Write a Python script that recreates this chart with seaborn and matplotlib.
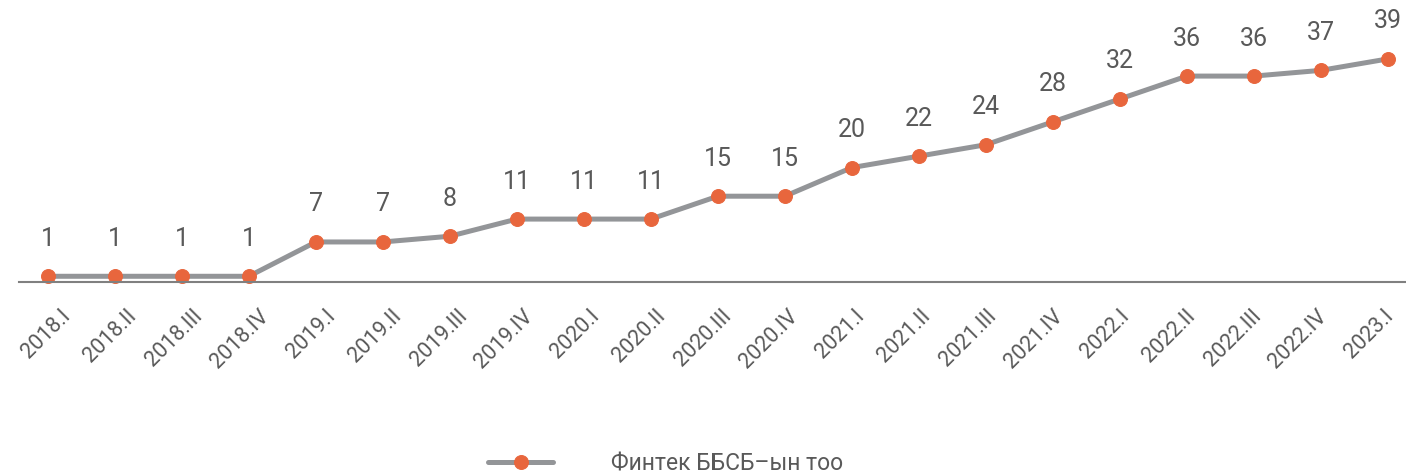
import pandas as pd
import matplotlib.pyplot as plt
import matplotlib.transforms as mtransforms
import seaborn as sns

quarters = ['2018.I', '2018.II', '2018.III', '2018.IV',
            '2019.I', '2019.II', '2019.III', '2019.IV',
            '2020.I', '2020.II', '2020.III', '2020.IV',
            '2021.I', '2021.II', '2021.III', '2021.IV',
            '2022.I', '2022.II', '2022.III', '2022.IV',
            '2023.I']
fintech_count = [1, 1, 1, 1, 7, 7, 8, 11, 11, 11, 15, 15, 20, 22, 24, 28, 32, 36, 36, 37, 39]
series_name = 'Финтек ББСБ–ын тоо'

df = pd.DataFrame({'pos': range(len(quarters)), 'quarter': quarters, 'value': fintech_count})

sns.set_style('white')
plt.rcParams['font.family'] = ['Roboto', 'DejaVu Sans']

text_color = '#595959'
line_color = '#939598'
dot_color = '#E8663D'

fig = plt.figure(figsize=(14.06, 4.76), dpi=100)
ax = fig.add_axes([19 / 1406, 1 - 282 / 476, 1387 / 1406, 282 / 476])

sns.lineplot(data=df, x='pos', y='value', ax=ax, color=line_color, linewidth=3.6,
             marker='o', markersize=10, markerfacecolor=dot_color,
             markeredgecolor=dot_color, label=series_name, clip_on=False)

# value labels above points
for x, y in zip(df['pos'], df['value']):
    ax.annotate(str(y), (x, y), xytext=(0, 22), textcoords='offset points',
                ha='center', va='baseline', fontsize=18, color=text_color)

ax.set_xlim(-0.43, 20.27)
ax.set_ylim(0, 49.3)
ax.set_xticks(df['pos'])
ax.set_xticklabels(quarters, rotation=45, ha='right', rotation_mode='anchor',
                   fontsize=15.5, color=text_color)
ax.tick_params(axis='x', length=0, pad=17)
# labels drift slightly left relative to the points across the axis
n = len(quarters)
for i, lbl in enumerate(ax.get_xticklabels()):
    dx = (12 - 17 * i / (n - 1)) / 100
    lbl.set_transform(lbl.get_transform() + mtransforms.ScaledTranslation(dx, 0, fig.dpi_scale_trans))
ax.set_yticks([])
ax.set_xlabel('')
ax.set_ylabel('')
for side in ['top', 'right', 'left']:
    ax.spines[side].set_visible(False)
ax.spines['bottom'].set_color('#808080')
ax.spines['bottom'].set_linewidth(1.5)

handles, labels = ax.get_legend_handles_labels()
ax.get_legend().remove()
fig.legend(handles, labels, loc='center left', bbox_to_anchor=(488 / 1406, 1 - 464 / 476),
           frameon=False, fontsize=16.5, labelcolor=text_color, borderpad=0,
           borderaxespad=0, handlelength=2.85, handletextpad=2.5)

fig.savefig('out.png', dpi=100)
